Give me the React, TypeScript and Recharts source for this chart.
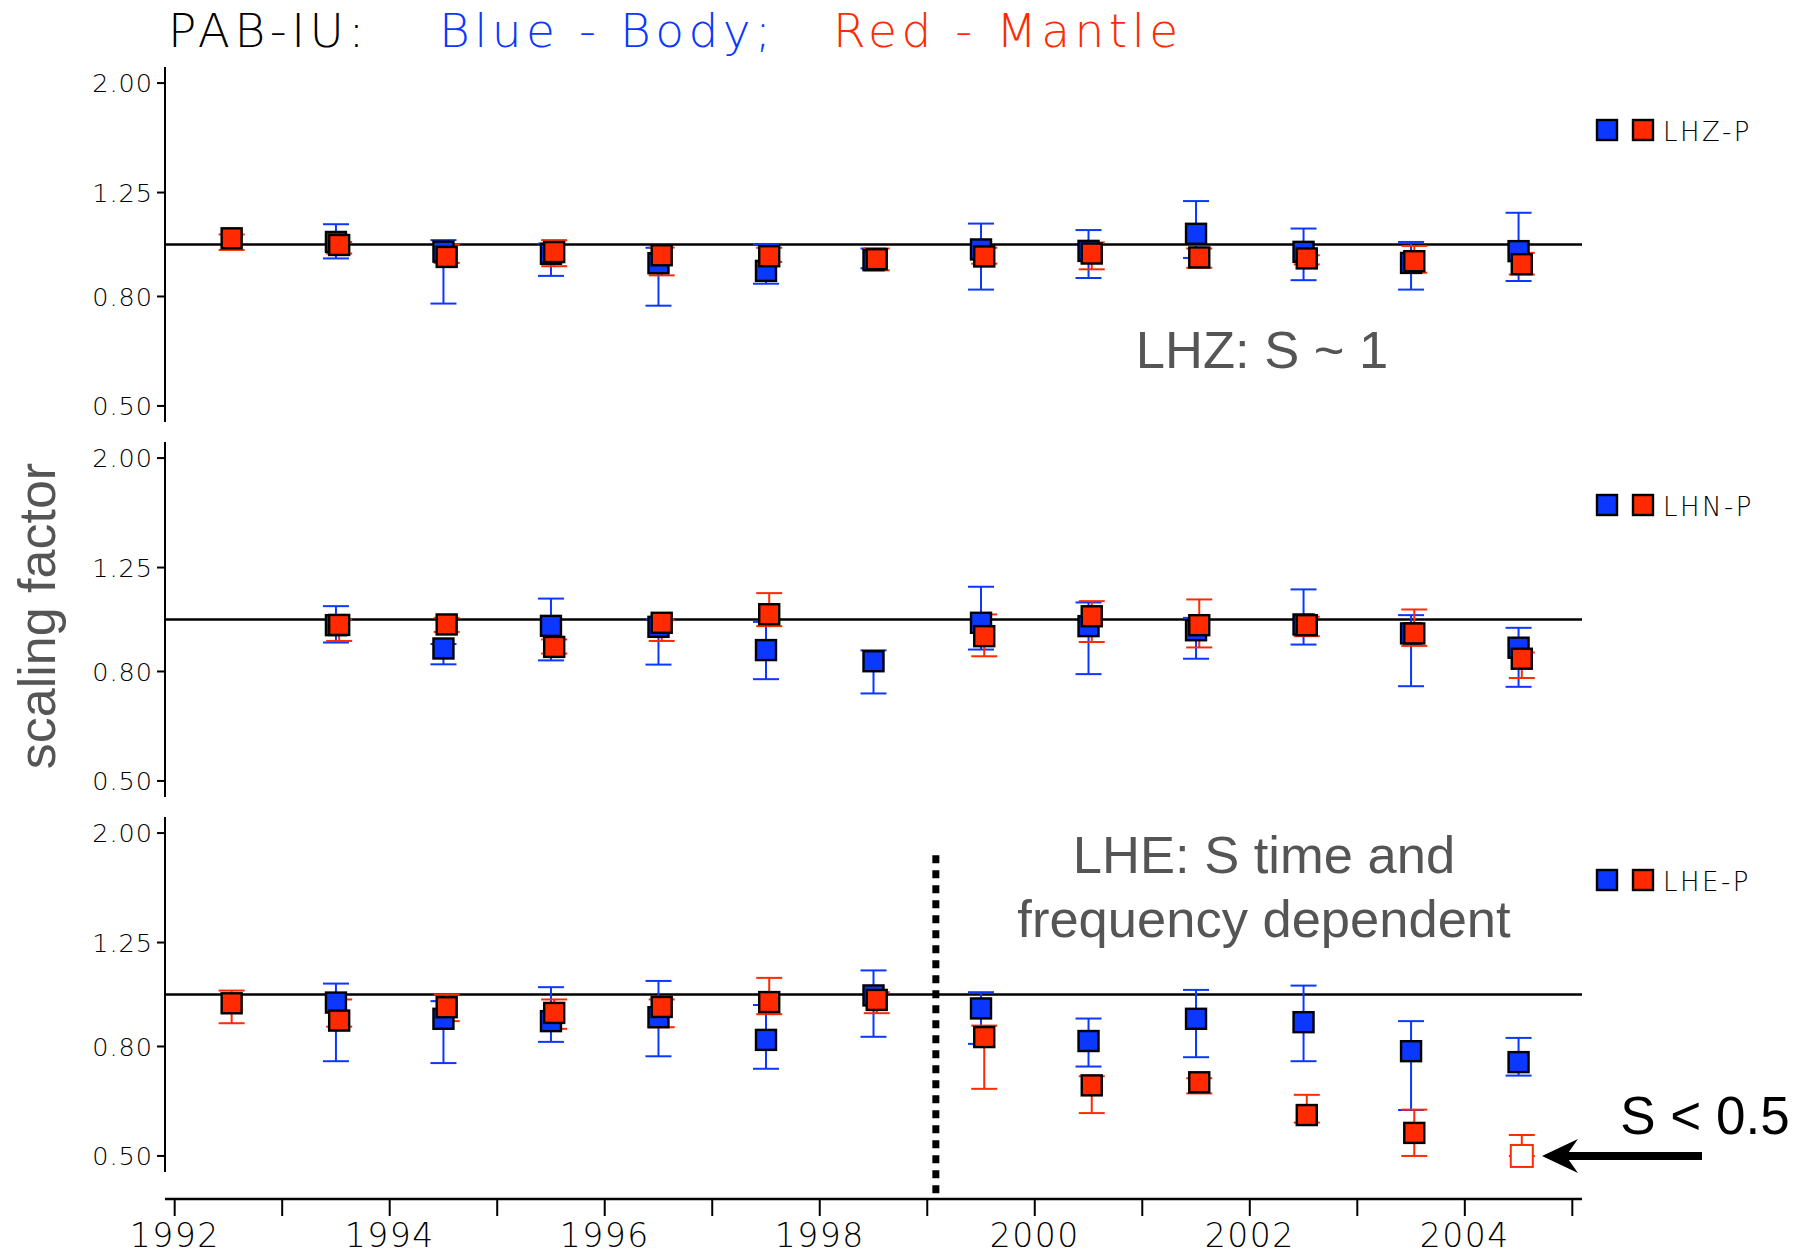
import React from "react";
import { ScatterChart, Scatter, XAxis, YAxis, ErrorBar, ReferenceLine } from "recharts";

// time of each estimate (body); mantle points sit slightly later
const epochs = [1992.5, 1993.5, 1994.5, 1995.5, 1996.5, 1997.5, 1998.5, 1999.5, 2000.5, 2001.5, 2002.5, 2003.5, 2004.5];
const mantleShift = 0.03;

const yearTicks = [1992, 1993, 1994, 1995, 1996, 1997, 1998, 1999, 2000, 2001, 2002, 2003, 2004, 2005];
const scaleTicks = [0.5, 0.8, 1.25, 2.0];

type Range = [number, number] | null;

// LHZ-P
const lhzBody: (number | null)[] = [null, 1.011, 0.97, 0.961, 0.923, 0.893, 0.935, 0.979, 0.973, 1.047, 0.969, 0.924, 0.972];
const lhzBodyRange: Range[] = [null, [0.942, 1.091], [0.776, 1.019], [0.874, 1.004], [0.769, 0.986], [0.845, 1.0], [0.903, 0.983], [0.824, 1.094], [0.866, 1.064], [0.944, 1.205], [0.858, 1.071], [0.824, 1.011], [0.855, 1.146]];
const lhzMantle: (number | null)[] = [1.027, 0.998, 0.948, 0.968, 0.955, 0.951, 0.939, 0.95, 0.962, 0.946, 0.942, 0.931, 0.919];
const lhzMantleRange: Range[] = [[0.977, 1.044], [0.962, 1.011], [0.924, 1.0], [0.911, 1.019], [0.876, 0.987], [0.928, 0.986], [0.895, 0.983], [0.921, 0.986], [0.899, 1.009], [0.905, 0.983], [0.918, 0.955], [0.886, 0.994], [0.879, 0.965]];

// LHN-P
const lhnBody: (number | null)[] = [null, 0.976, 0.883, 0.973, 0.969, 0.877, 0.836, 0.986, 0.972, 0.955, 0.979, 0.942, 0.886];
const lhnBodyRange: Range[] = [null, [0.906, 1.059], [0.825, 0.9], [0.839, 1.094], [0.824, 1.0], [0.774, 0.99], [0.728, 0.876], [0.879, 1.151], [0.791, 1.076], [0.845, 1.007], [0.898, 1.138], [0.751, 1.019], [0.749, 0.965]];
const lhnMantle: (number | null)[] = [null, 0.977, 0.979, 0.889, 0.986, 1.023, null, 0.931, 1.014, 0.976, 0.976, 0.942, 0.845];
const lhnMantleRange: Range[] = [null, [0.912, 1.0], [0.948, 1.007], [0.864, 0.918], [0.912, 0.997], [0.972, 1.12], null, [0.854, 1.022], [0.908, 1.082], [0.887, 1.09], [0.931, 1.012], [0.893, 1.044], [0.778, 0.868]];

// LHE-P
const lheBody: (number | null)[] = [null, 0.966, 0.901, 0.892, 0.907, 0.823, 0.996, 0.942, 0.819, 0.901, 0.888, 0.784, 0.748];
const lheBodyRange: Range[] = [null, [0.751, 1.048], [0.745, 0.972], [0.816, 1.032], [0.767, 1.06], [0.727, 0.956], [0.834, 1.109], [0.809, 1.01], [0.734, 0.902], [0.764, 1.02], [0.751, 1.039], [0.609, 0.892], [0.706, 0.83]];
const lheMantle: (number | null)[] = [0.963, 0.894, 0.947, 0.924, 0.948, 0.968, 0.977, 0.833, 0.677, 0.686, 0.596, 0.552, 0.5];
const lheMantleRange: Range[] = [[0.884, 1.017], [0.871, 0.979], [0.892, 1.0], [0.863, 0.979], [0.869, 0.979], [0.919, 1.074], [0.923, 1.01], [0.667, 0.875], [0.601, 0.704], [0.654, 0.698], [0.577, 0.65], [0.5, 0.61], [0.5, 0.547]];
const lheMantleOpen = [2004.5]; // S < 0.5, drawn hollow

const BLUE = "#0b37ff";
const RED = "#ff2a00";
const TICK_FONT = '"DejaVu Sans", sans-serif';
const NOTE_FONT = '"Liberation Sans", Arial, sans-serif';

const xDomain: [number, number] = [1991.91, 2005.09];
const yDomain: [number, number] = [0.4667, 2.1429];

function build(vals: (number | null)[], ranges: Range[], shift: number, open: number[] = []) {
  const out: { x: number; y: number; err: [number, number]; open: boolean }[] = [];
  epochs.forEach((t, i) => {
    const v = vals[i];
    const r = ranges[i];
    if (v == null || r == null) return;
    out.push({ x: t + shift, y: v, err: [v - r[0], r[1] - v], open: open.includes(t) });
  });
  return out;
}

const squareShape = (fill: string) => (props: any) => {
  const { cx, cy, payload } = props;
  if (payload && payload.open) {
    return <rect x={cx - 11} y={cy - 11} width={22} height={22} fill="#fff" stroke={fill} strokeWidth={2} />;
  }
  return <rect x={cx - 10} y={cy - 10} width={20} height={20} fill={fill} stroke="#000" strokeWidth={2.4} />;
};

const YearTick = (props: any) => {
  const { x, y, payload } = props;
  if (payload.value % 2 !== 0) return <g />;
  return (
    <text x={x} y={y + 29} textAnchor="middle" fontSize={33} letterSpacing={1.5} fontFamily={TICK_FONT} fontWeight={200} fill="#000">
      {payload.value}
    </text>
  );
};

const panels = [
  { name: "LHZ-P", top: 67, body: build(lhzBody, lhzBodyRange, 0), mantle: build(lhzMantle, lhzMantleRange, mantleShift) },
  { name: "LHN-P", top: 442, body: build(lhnBody, lhnBodyRange, 0), mantle: build(lhnMantle, lhnMantleRange, mantleShift) },
  { name: "LHE-P", top: 817, body: build(lheBody, lheBodyRange, 0), mantle: build(lheMantle, lheMantleRange, mantleShift, lheMantleOpen) },
];

const App = () => {
  return (
    <div style={{ position: "absolute", left: 0, top: 0, width: 1806, height: 1255, background: "#fff" }}>
      {panels.map((p, idx) => {
        const last = idx === panels.length - 1;
        return (
          <div key={p.name} style={{ position: "absolute", left: 0, top: p.top }}>
            <ScatterChart width={1600} height={last ? 438 : 355} margin={{ top: 0, right: 18, bottom: 0, left: 0 }}>
              <XAxis
                type="number"
                dataKey="x"
                domain={xDomain}
                allowDataOverflow
                hide={!last}
                ticks={yearTicks}
                interval={0}
                height={56}
                tickSize={17}
                tick={<YearTick />}
                tickLine={{ stroke: "#000", strokeWidth: 2 }}
                axisLine={{ stroke: "#000", strokeWidth: 2.5 }}
              />
              <YAxis
                type="number"
                dataKey="y"
                scale="log"
                domain={yDomain}
                allowDataOverflow
                ticks={scaleTicks}
                interval={0}
                width={165}
                tickSize={8}
                tickMargin={4}
                padding={last ? { top: 0, bottom: 27 } : undefined}
                tickFormatter={(v: number) => v.toFixed(2)}
                tick={{ fontSize: 25.5, fill: "#000", fontFamily: TICK_FONT, fontWeight: 200, letterSpacing: 1 }}
                tickLine={{ stroke: "#000", strokeWidth: 2 }}
                axisLine={last ? false : { stroke: "#000", strokeWidth: 2 }}
              />
              {last && (
                <ReferenceLine
                  segment={[{ x: xDomain[0], y: yDomain[0] }, { x: xDomain[0], y: yDomain[1] }]}
                  stroke="#000"
                  strokeWidth={2}
                  ifOverflow="visible"
                />
              )}
              {last && (
                <ReferenceLine
                  segment={[{ x: 1999.08, y: 1.818 }, { x: 1999.08, y: 0.425 }]}
                  stroke="#000"
                  strokeWidth={7}
                  strokeDasharray="8 7"
                  ifOverflow="visible"
                />
              )}
              <ReferenceLine y={1} stroke="#000" strokeWidth={2.5} />
              <Scatter data={p.body} fill={BLUE} shape={squareShape(BLUE)} isAnimationActive={false}>
                <ErrorBar dataKey="err" direction="y" width={13} stroke={BLUE} strokeWidth={2} />
              </Scatter>
              <Scatter data={p.mantle} fill={RED} shape={squareShape(RED)} isAnimationActive={false}>
                <ErrorBar dataKey="err" direction="y" width={13} stroke={RED} strokeWidth={2} />
              </Scatter>
            </ScatterChart>
          </div>
        );
      })}

      <svg width={1806} height={1255} style={{ position: "absolute", left: 0, top: 0, pointerEvents: "none" }}>
        {/* title */}
        <g fontFamily={TICK_FONT} fontWeight={200} fontSize={47} letterSpacing={4.5}>
          <text x={168} y={47} fill="#000">PAB-IU:</text>
          <text x={439} y={47} fill={BLUE}>Blue - Body;</text>
          <text x={833} y={47} fill={RED}>Red - Mantle</text>
        </g>

        {/* legends */}
        {panels.map((p) => (
          <g key={p.name}>
            <rect x={1597} y={p.top + 53} width={20} height={20} fill={BLUE} stroke="#000" strokeWidth={2.4} />
            <rect x={1633} y={p.top + 53} width={20} height={20} fill={RED} stroke="#000" strokeWidth={2.4} />
            <text x={1663} y={p.top + 74} fontFamily={TICK_FONT} fontWeight={200} fontSize={26} letterSpacing={2.5} fill="#000">
              {p.name}
            </text>
          </g>
        ))}

        {/* axis title */}
        <text
          x={0}
          y={0}
          transform="translate(55 616) rotate(-90)"
          textAnchor="middle"
          fontFamily={NOTE_FONT}
          fontSize={52}
          fill="#555"
        >
          scaling factor
        </text>

        {/* notes */}
        <g fontFamily={NOTE_FONT} fontSize={52.5} fill="#555" textAnchor="middle">
          <text x={1262} y={368}>LHZ: S ~ 1</text>
          <text x={1264} y={873}>LHE: S time and</text>
          <text x={1264} y={937}>frequency dependent</text>
        </g>
        <text x={1705} y={1134} fontFamily={NOTE_FONT} fontSize={53} textAnchor="middle" fill="#000">
          S &lt; 0.5
        </text>
        <line x1={1566} y1={1156} x2={1702} y2={1156} stroke="#000" strokeWidth={8} />
        <polygon points="1542,1156 1578,1139 1566,1156 1578,1173" fill="#000" />
      </svg>
    </div>
  );
};

export default App;
